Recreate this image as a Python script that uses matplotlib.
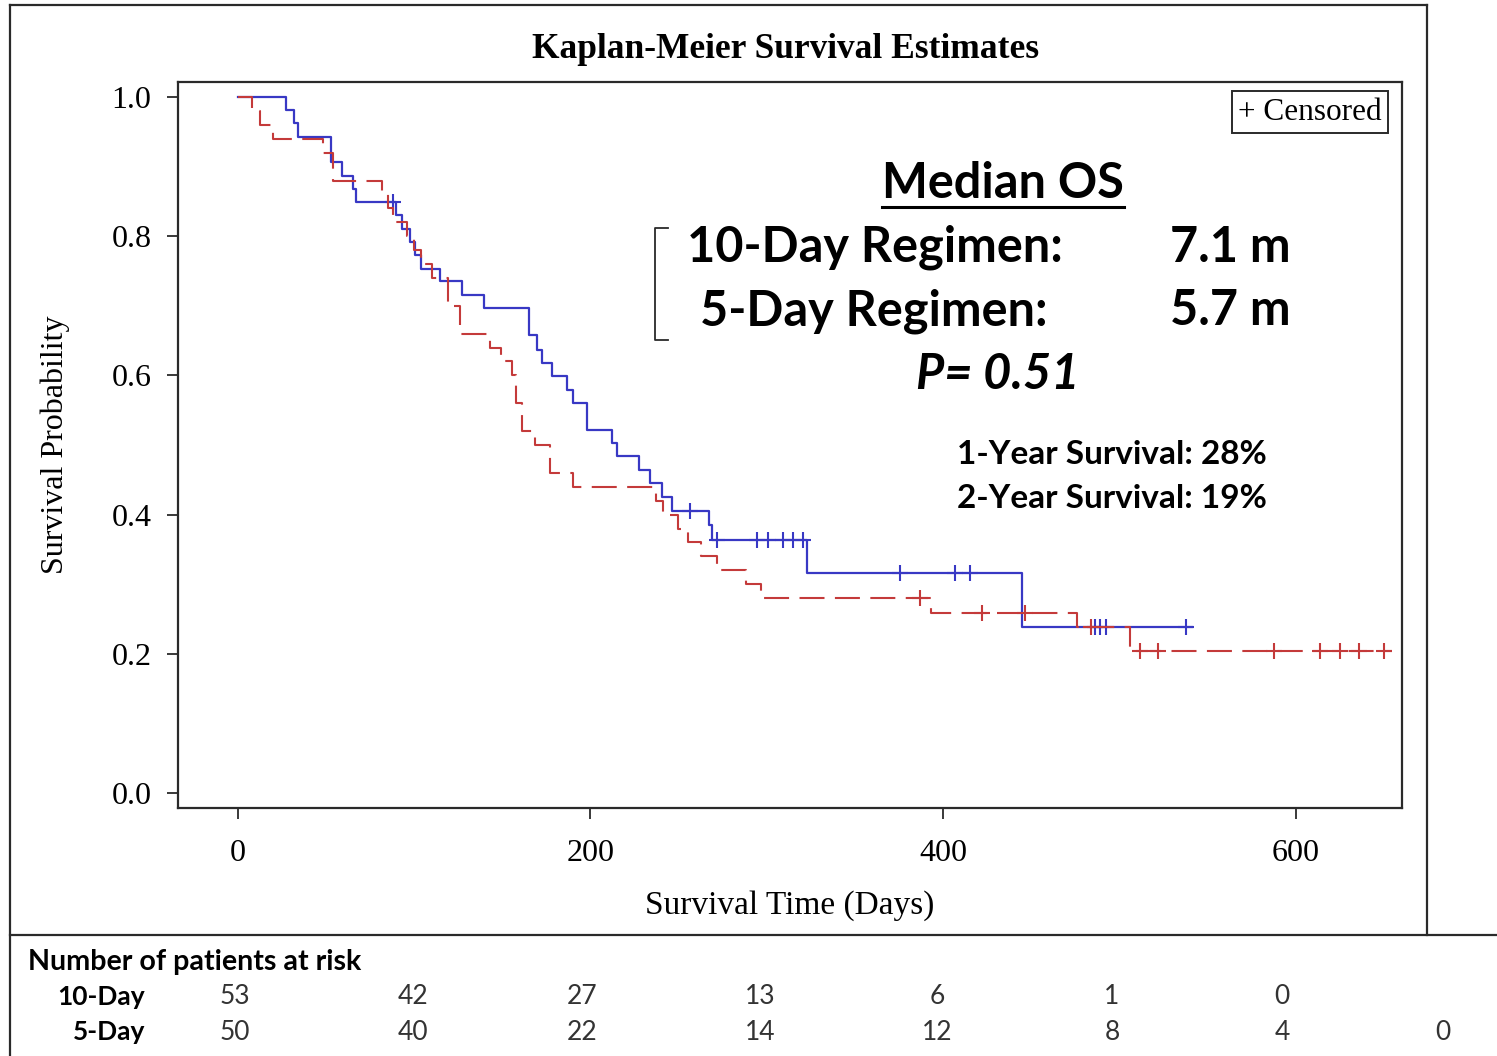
import matplotlib
matplotlib.use("Agg")
import matplotlib.pyplot as plt
from matplotlib.lines import Line2D
import numpy as np

W, H = 1497, 1056
SERIF = "Liberation Serif"
SANS = "Lato"

# ------------------------------------------------------------------
# Kaplan-Meier curves
# ------------------------------------------------------------------
# 10-Day regimen (solid blue)
ten_times = [27, 32, 34, 53, 59, 65, 67, 89.5, 93, 97.5, 100.5, 104, 114.5,
             127, 139.5, 165, 169.5, 172.5, 178, 186.5, 190, 198, 212, 215,
             227.5, 234, 240.5, 246, 267, 269, 323, 445]
ten_surv = [0.981, 0.962, 0.943, 0.906, 0.887, 0.868, 0.849, 0.830, 0.811,
            0.792, 0.773, 0.753, 0.735, 0.716, 0.697, 0.658, 0.637, 0.618,
            0.599, 0.579, 0.561, 0.522, 0.503, 0.484, 0.464, 0.445, 0.425,
            0.405, 0.385, 0.364, 0.316, 0.238]
ten_censor = [88, 256.5, 272, 294.5, 300.5, 309, 315, 320.5, 375.5, 407,
              415.5, 486, 489, 492.5, 538]
ten_end = 541

# 5-Day regimen (dashed red)
five_times = [8, 12.5, 20, 48.5, 54, 82, 85, 88, 96, 100, 104, 110, 119, 126,
              143, 149, 155.5, 158, 161, 168.5, 177, 190, 237, 241, 249.5,
              255.5, 262.5, 272, 288, 297, 393, 476, 506]
five_surv = [0.98, 0.96, 0.94, 0.92, 0.88, 0.86, 0.84, 0.82, 0.80, 0.78, 0.76,
             0.74, 0.70, 0.66, 0.64, 0.62, 0.60, 0.56, 0.52, 0.50, 0.46, 0.44,
             0.42, 0.40, 0.38, 0.36, 0.34, 0.32, 0.30, 0.28, 0.259, 0.238,
             0.204]
five_censor = [387, 422, 446.5, 484, 512, 522, 588, 614, 625, 636, 650]
five_end = 655

# number at risk table
risk_groups = ["10-Day", "5-Day"]
risk_10day = [53, 42, 27, 13, 6, 1, 0]
risk_5day = [50, 40, 22, 14, 12, 8, 4, 0]

median_labels = ["10-Day Regimen:", "5-Day Regimen:"]
median_values = ["7.1 m", "5.7 m"]
p_value = "0.51"
year_survival = [("1-Year Survival", 28), ("2-Year Survival", 19)]

BLUE = "#3838c4"
RED = "#c43a3a"
EDGE = "#2a2a2a"


def fx(x):
    return x / W


def fy(y):
    return 1 - y / H


def km_step(times, surv, end):
    t = np.r_[0, times, end]
    s = np.r_[1.0, surv, surv[-1]]
    return t, s


def surv_at(times, surv, t):
    idx = np.searchsorted(times, t, side="right") - 1
    return np.where(idx < 0, 1.0, np.asarray(surv)[np.clip(idx, 0, None)])


fig = plt.figure(figsize=(W / 100, H / 100), dpi=100)
ax = fig.add_axes([fx(178), fy(808), fx(1402 - 178), (808 - 82) / H])

t, s = km_step(ten_times, ten_surv, ten_end)
ax.step(t, s, where="post", color=BLUE, lw=1.6)
ax.plot(ten_censor, surv_at(ten_times, ten_surv, ten_censor), "+",
        color=BLUE, ms=11, mew=1.5)

t, s = km_step(five_times, five_surv, five_end)
ax.step(t, s, where="post", color=RED, lw=1.5, dashes=(12, 5))
ax.plot(five_censor, surv_at(five_times, five_surv, five_censor), "+",
        color=RED, ms=11, mew=1.5)

ax.set_xlim(-34, 660.4)
ax.set_ylim(-0.0216, 1.0216)
ax.set_xticks([0, 200, 400, 600])
ax.set_yticks(np.arange(0, 1.01, 0.2))
ax.set_yticklabels([f"{v:.1f}" for v in np.arange(0, 1.01, 0.2)])
ax.tick_params(direction="out", length=8, width=1.3, color=EDGE,
               labelsize=23, pad=11)
ax.tick_params(axis="x", pad=14)
for lab in ax.get_xticklabels() + ax.get_yticklabels():
    lab.set_fontfamily(SERIF)
for sp in ax.spines.values():
    sp.set_color(EDGE)
    sp.set_linewidth(1.6)

# titles / axis labels
fig.text(fx(786), fy(50), "Kaplan-Meier Survival Estimates", family=SERIF,
         fontsize=25.5, fontweight="bold", ha="center", va="center")
fig.text(fx(790), fy(906), "Survival Time (Days)", family=SERIF,
         fontsize=24, ha="center", va="center")
fig.text(fx(55), fy(445), "Survival Probability", family=SERIF,
         fontsize=23, ha="center", va="center", rotation=90)

# censored legend box
fig.text(fx(1310), fy(112), "+ Censored", family=SERIF, fontsize=22.5,
         ha="center", va="center",
         bbox=dict(boxstyle="square,pad=0.2", facecolor="white",
                   edgecolor=EDGE, linewidth=1.4))

# median OS block
med = fig.text(fx(1003), fy(183), "Median OS", family=SANS, fontsize=35,
               fontweight="bold", ha="center", va="center")
for i, (lab, val) in enumerate(zip(median_labels, median_values)):
    y = 247 + i * 64
    fig.text(fx(1063 if i == 0 else 1048), fy(y), lab, family=SANS,
             fontsize=35, fontweight="bold", ha="right", va="center")
    fig.text(fx(1170), fy(y), val, family=SANS, fontsize=35,
             fontweight="bold", ha="left", va="center")
fig.text(fx(998), fy(374), f"P= {p_value}", family=SANS, fontsize=35,
         fontweight="bold", style="italic", ha="center", va="center")
for i, (lab, pct) in enumerate(year_survival):
    fig.text(fx(957), fy(454 + i * 44), f"{lab}: {pct}%", family=SANS,
             fontsize=24, fontweight="bold", ha="left", va="center")

# underline for "Median OS"
fig.canvas.draw()
bb = med.get_window_extent(fig.canvas.get_renderer())
fig.add_artist(Line2D([bb.x0 / W, bb.x1 / W], [fy(207), fy(207)],
                      color="black", lw=2.2))

# bracket left of the regimen lines
fig.add_artist(Line2D([fx(668), fx(655), fx(655), fx(668)],
                      [fy(228), fy(228), fy(340), fy(340)],
                      color=EDGE, lw=1.3))

# outer borders
for (x0, y0, x1, y1) in [(10, 5, 1427, 5), (1427, 5, 1427, 935),
                         (10, 5, 10, 1056), (10, 935, 1497, 935)]:
    fig.add_artist(Line2D([fx(x0), fx(x1)], [fy(y0), fy(y1)],
                          color=EDGE, lw=1.6))

# number-at-risk table
fig.text(fx(28), fy(962), "Number of patients at risk", family=SANS,
         fontsize=20.6, fontweight="bold", ha="left", va="center")
col_x = [235, 413, 582, 760, 937, 1112, 1282, 1443]
for row, (grp, vals) in enumerate(zip(risk_groups, [risk_10day, risk_5day])):
    y = 997 + row * 35
    fig.text(fx(145), fy(y), grp, family=SANS, fontsize=19,
             fontweight="bold", ha="right", va="center")
    for xc, v in zip(col_x, vals):
        fig.text(fx(xc), fy(y), str(v), family=SANS, fontsize=19,
                 color="#333333", ha="center", va="center")

fig.savefig("out.png", dpi=100)
